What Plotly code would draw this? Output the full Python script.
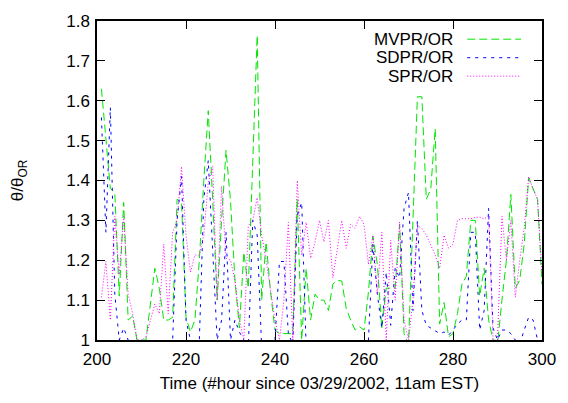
import plotly.graph_objects as go

hours = list(range(201, 301))

mvpr = [1.63, 1.50, 1.38, 1.37, 1.11, 1.345, 1.05, 1.06, 1.0, 1.0,
        1.0, 1.09, 1.18, 1.13, 1.05, 1.05, 1.057, 1.353, 1.345, 1.057,
        1.02, 1.05, 1.2, 1.4, 1.575, 1.35, 1.1, 1.3, 1.476, 1.35,
        1.15, 1.03, 1.22, 1.13, 1.45, 1.764, 1.10, 1.246, 1.12, 1.025,
        1.016, 1.016, 1.016, 1.016, 1.353, 1.0, 1.18, 1.05, 1.115, 1.10,
        1.10, 1.074, 1.14, 1.15, 1.148, 1.08, 1.05, 1.025, 1.033, 1.025,
        1.12, 1.26, 1.19, 1.03, 1.13, 1.13, 1.13, 1.29, 1.016, 0.99,
        1.3, 1.61, 1.61, 1.353, 1.378, 1.53, 1.04, 1.094, 1.008, 1.016,
        1.066, 1.14, 1.16, 1.30, 1.30, 1.11, 1.18, 1.05, 1.0, 0.99,
        1.1, 1.2, 1.365, 1.13, 1.15, 1.24, 1.406, 1.378, 1.353, 1.14]

sdpr = [1.558, 1.27, 1.583, 1.115, 1.0, 1.03, 1.0, 0.95, 0.9, 0.9,
        0.9, 0.9, 0.95, 0.95, 1.0, 0.95, 1.0, 1.30, 1.41, 1.05,
        1.0, 0.95, 1.0, 1.353, 1.45, 1.22, 1.0, 1.05, 1.27, 1.0,
        1.05, 1.02, 1.0, 0.98, 1.30, 1.263, 0.98, 0.95, 0.95, 1.0,
        1.197, 1.197, 1.016, 0.99, 1.312, 1.345, 0.98, 0.9, 0.9, 0.9,
        0.9, 0.9, 0.9, 0.9, 0.9, 0.9, 0.9, 0.9, 0.9, 0.95,
        1.0, 1.24, 1.115, 1.03, 1.17, 1.037, 1.18, 1.156, 1.33, 1.37,
        1.074, 1.30, 1.074, 1.037, 1.03, 1.025, 1.016, 1.02, 1.012, 1.025,
        1.04, 1.05, 1.05, 1.27, 1.27, 1.025, 1.074, 1.33, 1.03, 1.0,
        1.025, 1.025, 1.016, 1.0, 0.99, 1.025, 1.057, 1.05, 1.0, 0.99]

spr = [1.107, 1.197, 1.05, 1.31, 1.164, 1.31, 1.115, 1.066, 1.0, 1.0,
       1.008, 1.05, 1.09, 1.066, 1.24, 1.066, 1.27, 1.30, 1.435, 1.263,
       1.17, 1.213, 1.213, 1.263, 1.394, 1.435, 1.1, 1.386, 1.205, 1.2,
       1.15, 1.05, 1.0, 1.287, 1.30, 1.357, 1.263, 1.2, 1.12, 1.05,
       1.0, 1.1, 1.295, 1.0, 1.40, 1.213, 1.295, 1.205, 1.246, 1.30,
       1.246, 1.30, 1.156, 1.23, 1.30, 1.23, 1.29, 1.28, 1.31, 1.29,
       1.19, 1.263, 1.115, 1.27, 1.0, 1.25, 1.1, 1.296, 1.05, 1.0,
       1.1, 1.287, 1.28, 1.263, 1.24, 1.213, 1.18, 1.263, 1.23, 1.24,
       1.30, 1.304, 1.304, 1.304, 1.308, 1.308, 1.304, 1.31, 1.0, 1.0,
       1.31, 1.2, 1.30, 1.107, 1.2, 1.28, 1.41, 1.378, 1.353, 1.164]

series_names = ["MVPR/OR", "SDPR/OR", "SPR/OR"]
series_vals = [mvpr, sdpr, spr]
colors = ["#00e600", "#0000ff", "#ff00ff"]
dashes = ["8px,4px", "3px,5px", "1px,2px"]

x_ticks = [200, 220, 240, 260, 280, 300]
y_ticks = [1, 1.1, 1.2, 1.3, 1.4, 1.5, 1.6, 1.7, 1.8]
y_tick_text = ["1", "1.1", "1.2", "1.3", "1.4", "1.5", "1.6", "1.7", "1.8"]

FONT = "Liberation Sans, Arial, sans-serif"
FS = 17

fig = go.Figure()
for name, vals, c, d in zip(series_names, series_vals, colors, dashes):
    fig.add_trace(go.Scatter(x=hours, y=vals, mode="lines", name=name,
                             line=dict(color=c, width=1, dash=d),
                             showlegend=False))

# gnuplot-style key: text right-aligned, sample line to the right
for i, (name, c, d) in enumerate(zip(series_names, colors, dashes)):
    yc = 0.943 - i * 0.058
    fig.add_annotation(x=0.805, y=yc, xref="paper", yref="paper",
                       text=name, showarrow=False, xanchor="right",
                       yanchor="middle", font=dict(size=FS, color="black", family=FONT))
    fig.add_shape(type="line", xref="paper", yref="paper",
                  x0=0.832, x1=0.953, y0=yc, y1=yc,
                  line=dict(color=c, width=1, dash=d))

fig.update_layout(
    width=568, height=403,
    margin=dict(l=97, r=22, t=15, b=63),
    paper_bgcolor="white", plot_bgcolor="white",
    font=dict(family=FONT, size=FS, color="black"),
    xaxis=dict(range=[200, 300], tickvals=x_ticks, ticks="inside", ticklen=8,
               tickcolor="black", showline=True, linecolor="black", linewidth=1.5,
               mirror="ticks", showgrid=False, zeroline=False,
               ticklabelstandoff=3,
               title=dict(text="Time (#hour since 03/29/2002, 11am EST)",
                          font=dict(size=FS), standoff=9)),
    yaxis=dict(range=[1, 1.8], tickvals=y_ticks, ticktext=y_tick_text,
               ticks="inside", ticklen=8, tickcolor="black", showline=True,
               linecolor="black", linewidth=1.5, mirror="ticks", showgrid=False,
               zeroline=False, ticklabelstandoff=2,
               title=dict(text="θ/θ<sub>OR</sub>", font=dict(size=FS), standoff=38)),
)

fig.write_html("out.html")
